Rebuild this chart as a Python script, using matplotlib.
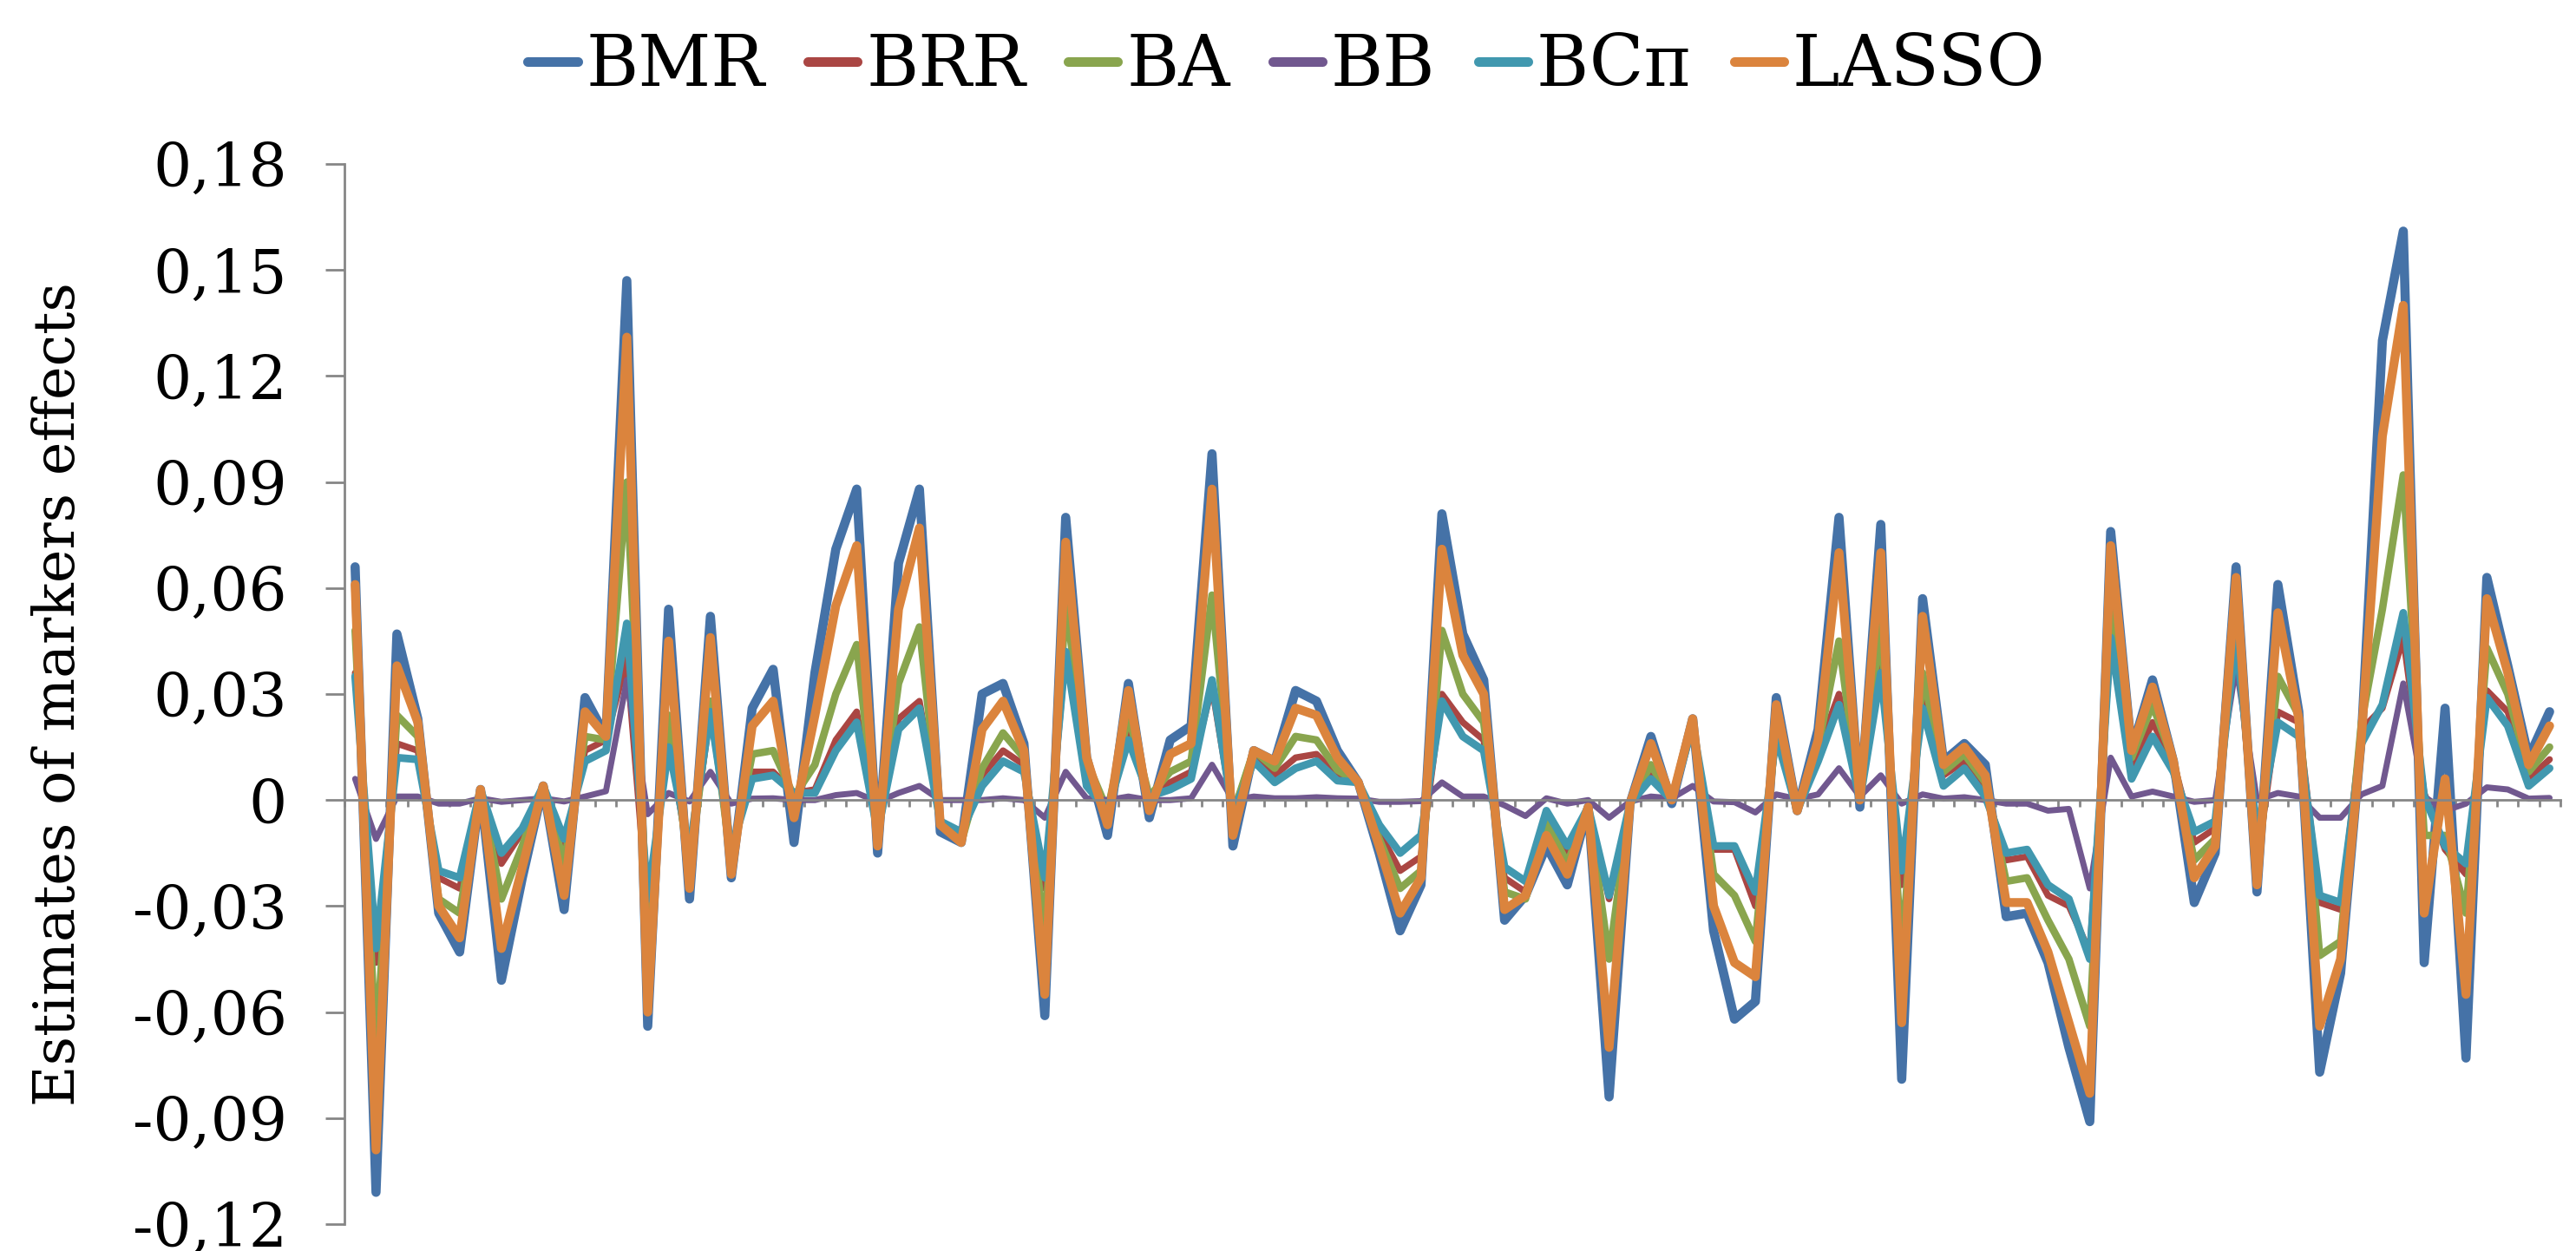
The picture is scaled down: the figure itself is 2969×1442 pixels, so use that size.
import matplotlib
matplotlib.use("Agg")
import matplotlib.pyplot as plt
import numpy as np

BMR = [0.066, -0.111, 0.047, 0.023, -0.032, -0.043, 0.003, -0.051, -0.022, 0.004,
       -0.031, 0.029, 0.018, 0.147, -0.064, 0.054, -0.028, 0.052, -0.022, 0.026,
       0.037, -0.012, 0.036, 0.071, 0.088, -0.015, 0.067, 0.088, -0.009, -0.012,
       0.030, 0.033, 0.016, -0.061, 0.080, 0.012, -0.010, 0.033, -0.005, 0.017,
       0.021, 0.098, -0.013, 0.014, 0.011, 0.031, 0.028, 0.014, 0.005, -0.015,
       -0.037, -0.024, 0.081, 0.047, 0.034, -0.034, -0.027, -0.013, -0.024, -0.002,
       -0.084, -0.001, 0.018, -0.001, 0.023, -0.037, -0.062, -0.057, 0.029, -0.003,
       0.020, 0.080, -0.002, 0.078, -0.079, 0.057, 0.011, 0.016, 0.010, -0.033,
       -0.032, -0.046, -0.070, -0.091, 0.076, 0.014, 0.034, 0.011, -0.029, -0.015,
       0.066, -0.026, 0.061, 0.025, -0.077, -0.049, 0.018, 0.130, 0.161, -0.046,
       0.026, -0.073, 0.063, 0.038, 0.012, 0.025]
BRR = [0.036, -0.046, 0.016, 0.014, -0.022, -0.025, 0.003, -0.018, -0.009, 0.004,
       -0.014, 0.014, 0.017, 0.040, -0.032, 0.018, -0.018, 0.025, -0.014, 0.008,
       0.008, 0.002, 0.003, 0.017, 0.025, -0.009, 0.023, 0.028, -0.006, -0.011,
       0.007, 0.014, 0.010, -0.025, 0.042, 0.006, -0.003, 0.020, 0.001, 0.005,
       0.008, 0.032, -0.004, 0.014, 0.007, 0.012, 0.013, 0.007, 0.005, -0.009,
       -0.020, -0.016, 0.030, 0.022, 0.017, -0.022, -0.026, -0.004, -0.015, -0.002,
       -0.028, -0.001, 0.007, 0.000, 0.021, -0.014, -0.014, -0.030, 0.020, -0.003,
       0.014, 0.030, 0.000, 0.040, -0.024, 0.029, 0.007, 0.011, 0.003, -0.017,
       -0.016, -0.027, -0.030, -0.043, 0.045, 0.009, 0.022, 0.011, -0.012, -0.008,
       0.048, -0.018, 0.025, 0.022, -0.029, -0.031, 0.020, 0.026, 0.046, 0.002,
       -0.014, -0.021, 0.031, 0.025, 0.006, 0.0115]
BA = [0.048, -0.071, 0.024, 0.018, -0.028, -0.032, 0.003, -0.028, -0.013, 0.004,
      -0.018, 0.018, 0.017, 0.090, -0.038, 0.024, -0.020, 0.028, -0.018, 0.013,
      0.014, 0.001, 0.010, 0.030, 0.044, -0.011, 0.033, 0.049, -0.006, -0.012,
      0.009, 0.019, 0.012, -0.038, 0.056, 0.011, -0.003, 0.024, 0.001, 0.008,
      0.011, 0.058, -0.004, 0.014, 0.009, 0.018, 0.017, 0.0085, 0.005, -0.011,
      -0.025, -0.020, 0.048, 0.030, 0.022, -0.026, -0.028, -0.006, -0.018, -0.002,
      -0.045, -0.001, 0.010, 0.000, 0.022, -0.021, -0.027, -0.040, 0.021, -0.003,
      0.015, 0.045, 0.000, 0.050, -0.044, 0.036, 0.008, 0.013, 0.005, -0.023,
      -0.022, -0.034, -0.045, -0.064, 0.056, 0.012, 0.027, 0.011, -0.017, -0.011,
      0.055, -0.020, 0.035, 0.024, -0.044, -0.040, 0.022, 0.054, 0.092, -0.010,
      -0.010, -0.032, 0.043, 0.030, 0.008, 0.015]
BB = [0.006, -0.011, 0.001, 0.001, -0.001, -0.001, 0.0005, -0.0005, 0.000, 0.0005,
      -0.0004, 0.001, 0.0025, 0.034, -0.004, 0.002, -0.0004, 0.008, -0.001, 0.0004,
      0.0005, 0.000, 0.000, 0.0014, 0.002, -0.0005, 0.002, 0.004, 0.000, 0.000,
      0.000, 0.0005, 0.000, -0.005, 0.008, 0.0005, 0.000, 0.001, 0.000, 0.000,
      0.0005, 0.010, 0.000, 0.001, 0.0005, 0.0005, 0.0008, 0.0005, 0.0004, -0.0005,
      -0.0005, -0.0003, 0.005, 0.001, 0.001, -0.0015, -0.0045, 0.0005, -0.001, 0.000,
      -0.005, -0.0004, 0.001, 0.0005, 0.004, -0.0004, -0.0006, -0.0035, 0.0016, 0.0003,
      0.0016, 0.009, 0.001, 0.007, -0.001, 0.0016, 0.0004, 0.0008, 0.000, -0.001,
      -0.001, -0.003, -0.0025, -0.025, 0.012, 0.001, 0.0024, 0.001, -0.0005, 0.000,
      0.038, 0.000, 0.002, 0.001, -0.005, -0.005, 0.0016, 0.004, 0.033, 0.001,
      -0.003, -0.001, 0.0036, 0.003, 0.0004, 0.0006]
BCpi = [0.035, -0.042, 0.012, 0.0115, -0.020, -0.022, 0.003, -0.015, -0.008, 0.004,
        -0.011, 0.011, 0.014, 0.050, -0.028, 0.015, -0.014, 0.025, -0.014, 0.006,
        0.007, 0.002, 0.002, 0.014, 0.022, -0.009, 0.020, 0.026, -0.006, -0.009,
        0.004, 0.011, 0.008, -0.022, 0.042, 0.004, -0.003, 0.017, 0.001, 0.003,
        0.006, 0.034, -0.004, 0.011, 0.005, 0.009, 0.011, 0.0055, 0.005, -0.007,
        -0.015, -0.010, 0.028, 0.018, 0.014, -0.019, -0.023, -0.003, -0.013, -0.002,
        -0.027, -0.001, 0.006, 0.000, 0.021, -0.013, -0.013, -0.026, 0.018, -0.003,
        0.011, 0.027, 0.000, 0.036, -0.020, 0.026, 0.004, 0.009, 0.001, -0.015,
        -0.014, -0.024, -0.028, -0.045, 0.046, 0.006, 0.018, 0.008, -0.009, -0.006,
        0.046, -0.010, 0.022, 0.018, -0.027, -0.029, 0.016, 0.027, 0.053, 0.001,
        -0.013, -0.018, 0.029, 0.021, 0.004, 0.009]
LASSO = [0.061, -0.099, 0.038, 0.022, -0.030, -0.039, 0.003, -0.042, -0.019, 0.004,
         -0.027, 0.025, 0.018, 0.131, -0.060, 0.045, -0.025, 0.046, -0.021, 0.021,
         0.028, -0.005, 0.024, 0.055, 0.072, -0.013, 0.054, 0.077, -0.007, -0.012,
         0.020, 0.028, 0.014, -0.055, 0.073, 0.012, -0.007, 0.031, -0.003, 0.013,
         0.016, 0.088, -0.010, 0.014, 0.011, 0.026, 0.024, 0.012, 0.005, -0.013,
         -0.032, -0.022, 0.071, 0.041, 0.030, -0.031, -0.027, -0.010, -0.021, -0.002,
         -0.070, -0.001, 0.016, 0.000, 0.023, -0.030, -0.046, -0.050, 0.027, -0.003,
         0.017, 0.070, 0.000, 0.070, -0.063, 0.052, 0.010, 0.015, 0.007, -0.029,
         -0.029, -0.043, -0.063, -0.083, 0.072, 0.014, 0.032, 0.011, -0.022, -0.013,
         0.063, -0.024, 0.053, 0.023, -0.064, -0.045, 0.018, 0.103, 0.140, -0.032,
         0.006, -0.055, 0.057, 0.036, 0.010, 0.021]

series_names = ["BMR", "BRR", "BA", "BB", "BC\u03c0", "LASSO"]
series_values = [BMR, BRR, BA, BB, BCpi, LASSO]
colors = ["#4572A7", "#AA4643", "#89A54E", "#71588F", "#4198AF", "#DB843D"]
yticks = [-0.12, -0.09, -0.06, -0.03, 0, 0.03, 0.06, 0.09, 0.12, 0.15, 0.18]
ylabel = "Estimates of markers effects"

FONT = "DejaVu Serif"
fig = plt.figure(figsize=(29.69, 14.42), dpi=100)
ax = fig.add_axes([0.1338, 0.0215, 0.8600, 0.8474])

widths = [7.6, 5.4, 6.2, 5.0, 6.4, 7.4]
n = len(BMR)
x = np.arange(n)
for name, vals, c, lw in zip(series_names, series_values, colors, widths):
    ax.plot(x, vals, color=c, lw=lw, label=name, solid_joinstyle="round",
            solid_capstyle="round")

ax.set_xlim(-0.5, n - 0.5)
ax.set_ylim(-0.12, 0.18)
ax.set_yticks(yticks)
ax.set_yticklabels([("0" if v == 0 else f"{v:.2f}".replace(".", ",")) for v in yticks],
                   fontfamily=FONT, fontsize=50)
ax.set_xticks(np.arange(-0.5, n, 1))
ax.set_xticklabels([])
for s in ["top", "right"]:
    ax.spines[s].set_visible(False)
ax.spines["bottom"].set_position(("data", 0))
for s in ["left", "bottom"]:
    ax.spines[s].set_color("#868686")
    ax.spines[s].set_linewidth(2)
ax.tick_params(axis="x", direction="out", length=6, width=2, color="#868686")
ax.tick_params(axis="y", direction="out", length=15.8, width=2, color="#868686", pad=32)
ax.set_ylabel(ylabel, fontfamily=FONT, fontsize=47)
ax.yaxis.label.set_verticalalignment("center")
ax.yaxis.set_label_coords(-0.129, 0.5)

leg = fig.legend(loc="center", bbox_to_anchor=(0.4995, 0.947), ncol=6, frameon=False,
                 prop={"family": FONT, "size": 59}, handlelength=0.7,
                 handletextpad=0.12, columnspacing=0.6)
for h in leg.get_lines():
    h.set_linewidth(8)
    h.set_solid_capstyle("round")

fig.savefig("out.png", dpi=100)
